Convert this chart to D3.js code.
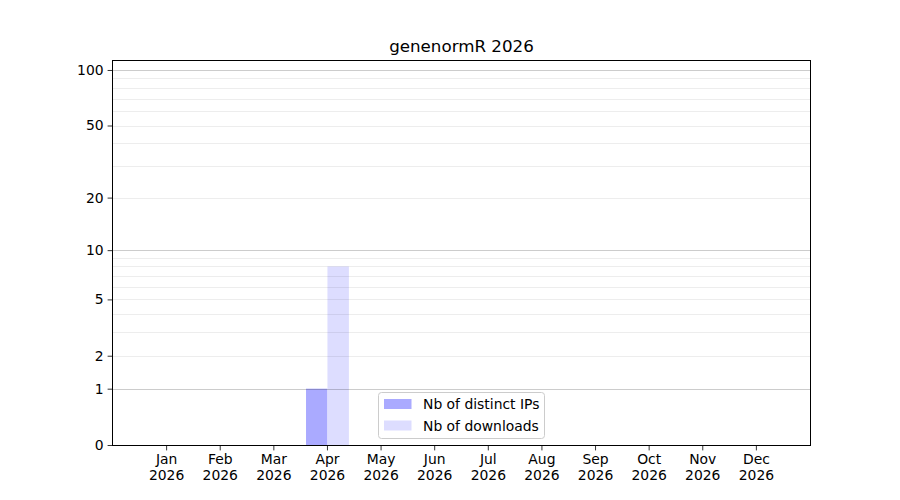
<!DOCTYPE html>
<html>
<head>
<meta charset="utf-8">
<script src="https://cdn.jsdelivr.net/npm/d3@7"></script>
<style>
  body { margin: 0; background: #fff; }
  svg text { font-family: "DejaVu Sans", sans-serif; }
</style>
</head>
<body>
<div id="plot"></div>
<script>
// chart data
const months = ["Jan", "Feb", "Mar", "Apr", "May", "Jun", "Jul", "Aug", "Sep", "Oct", "Nov", "Dec"];
const year = "2026";
const distinct_ips = [0, 0, 0, 1, 0, 0, 0, 0, 0, 0, 0, 0];
const downloads = [0, 0, 0, 8, 0, 0, 0, 0, 0, 0, 0, 0];
const y_ticks = [0, 1, 2, 5, 10, 20, 50, 100];
const major_grid = [1, 10, 100];
const minor_grid = [2, 3, 4, 5, 6, 7, 8, 9, 20, 30, 40, 50, 60, 70, 80, 90];
const title = "genenormR 2026";

const W = 900, H = 500;
const margin = { top: 60, left: 113, bottom: 55, right: 90 };
const x0 = margin.left, x1 = W - margin.right, y0 = H - margin.bottom, y1 = margin.top;

let svg = d3.select("#plot")
    .append("svg")
    .attr("width", W)
    .attr("height", H);

// x: month index, y: log10(v + 1)
const xScale = d3.scaleLinear()
    .domain([-1, 12])
    .range([x0, x1]);

const yLog = d3.scaleLog()
    .domain([1, 114.2])
    .range([y0, y1]);
const yScale = v => yLog(v + 1);

const barW = 0.4;

// bars
svg.append("g").selectAll("rect")
    .data(distinct_ips)
    .enter()
    .append("rect")
    .attr("x", (d, i) => xScale(i - barW))
    .attr("y", d => yScale(d))
    .attr("width", xScale(barW) - xScale(0))
    .attr("height", d => yScale(0) - yScale(d))
    .attr("fill", "#aaaaff");

svg.append("g").selectAll("rect")
    .data(downloads)
    .enter()
    .append("rect")
    .attr("x", (d, i) => xScale(i))
    .attr("y", d => yScale(d))
    .attr("width", xScale(barW) - xScale(0))
    .attr("height", d => yScale(0) - yScale(d))
    .attr("fill", "#ddddff");

// grid
let grid = svg.append("g").attr("class", "grid");
grid.selectAll("line.minor")
    .data(minor_grid)
    .enter()
    .append("line")
    .attr("class", "minor")
    .attr("x1", x0).attr("x2", x1)
    .attr("y1", d => Math.round(yScale(d)) + 0.5)
    .attr("y2", d => Math.round(yScale(d)) + 0.5)
    .attr("stroke", "#000")
    .attr("stroke-opacity", 0.07)
    .attr("stroke-width", 1);

grid.selectAll("line.major")
    .data(major_grid)
    .enter()
    .append("line")
    .attr("class", "major")
    .attr("x1", x0).attr("x2", x1)
    .attr("y1", d => Math.round(yScale(d)) + 0.5)
    .attr("y2", d => Math.round(yScale(d)) + 0.5)
    .attr("stroke", "#000")
    .attr("stroke-opacity", 0.2)
    .attr("stroke-width", 1);

// axes
const yAxis = d3.axisLeft(yLog)
    .tickValues(y_ticks.map(d => d + 1))
    .tickFormat(d => d3.format("d")(d - 1))
    .tickSize(4.9)
    .tickPadding(4);

svg.append("g")
    .attr("transform", `translate(${x0 - 0.5},0)`)
    .call(yAxis)
    .call(g => g.select(".domain").remove())
    .call(g => g.selectAll("text").attr("font-size", "13.9px").attr("fill", "#000"))
    .call(g => g.selectAll("line").attr("stroke", "#000").attr("stroke-width", 0.8));

const xAxis = d3.axisBottom(xScale)
    .tickValues(d3.range(months.length))
    .tickFormat(i => months[i])
    .tickSize(4.9)
    .tickPadding(4);

let xg = svg.append("g")
    .attr("transform", `translate(-0.5,${y0 + 0.5})`)
    .call(xAxis)
    .call(g => g.select(".domain").remove())
    .call(g => g.selectAll("line").attr("stroke", "#000").attr("stroke-width", 0.8));

xg.selectAll(".tick text")
    .attr("font-size", "13.9px")
    .attr("fill", "#000")
    .text(null)
    .each(function (i) {
        let t = d3.select(this);
        t.append("tspan").attr("x", 0).attr("dy", "0.71em").text(months[i]);
        t.append("tspan").attr("x", 0).attr("dy", "1.16em").text(year);
    })
    .attr("dy", null);

// frame
svg.append("rect")
    .attr("x", x0 - 0.5).attr("y", y1 + 0.5)
    .attr("width", x1 - x0 + 1).attr("height", y0 - y1)
    .attr("fill", "none")
    .attr("stroke", "#000")
    .attr("stroke-width", 1);

// title
svg.append("text")
    .attr("x", (x0 + x1) / 2)
    .attr("y", y1 - 8)
    .attr("text-anchor", "middle")
    .attr("font-size", "16.7px")
    .attr("fill", "#000")
    .text(title);

// legend
const legend_items = [
    { label: "Nb of distinct IPs", color: "#aaaaff" },
    { label: "Nb of downloads", color: "#ddddff" }
];
let legend = svg.append("g")
    .attr("transform", "translate(378.5,392.5)");

legend.append("rect")
    .attr("width", 166)
    .attr("height", 46)
    .attr("rx", 3)
    .attr("fill", "#fff")
    .attr("fill-opacity", 0.8)
    .attr("stroke", "#cccccc")
    .attr("stroke-width", 1);

legend_items.forEach((item, k) => {
    legend.append("rect")
        .attr("x", 5.5)
        .attr("y", 6.5 + k * 21.5)
        .attr("width", 27.5)
        .attr("height", 10)
        .attr("fill", item.color);
    legend.append("text")
        .attr("x", 44.5)
        .attr("y", 16.5 + k * 21.5)
        .attr("font-size", "13.9px")
        .attr("fill", "#000")
        .text(item.label);
});
</script>
</body>
</html>
